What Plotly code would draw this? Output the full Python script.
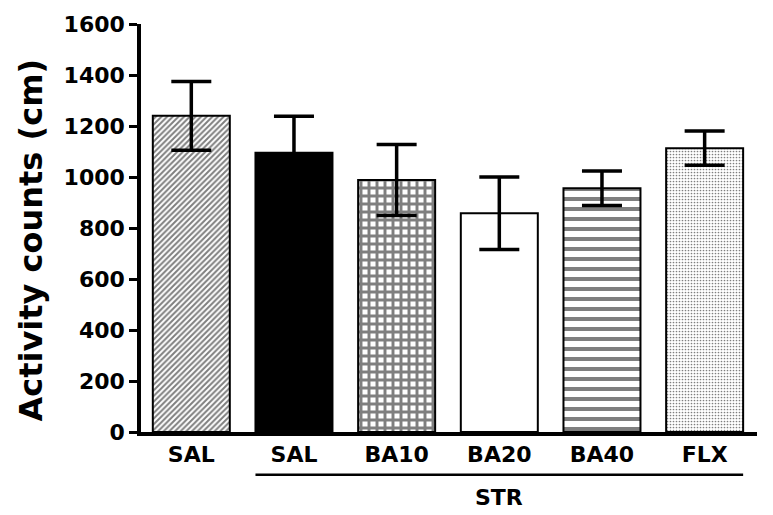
import plotly.graph_objects as go

groups = ["SAL", "SAL ", "BA10", "BA20", "BA40", "FLX"]
tick_text = ["SAL", "SAL", "BA10", "BA20", "BA40", "FLX"]
means = [1240, 1095, 988, 858, 956, 1113]
sem = [135, 143, 139, 142, 68, 67]
y_ticks = [0, 200, 400, 600, 800, 1000, 1200, 1400, 1600]

FONT = "DejaVu Sans"

patterns = [
    dict(shape="/", size=4, solidity=0.5, fgcolor="black", bgcolor="white"),
    dict(shape="", fgcolor="black", bgcolor="black"),
    dict(shape="+", size=8, solidity=0.6, fgcolor="black", bgcolor="white"),
    dict(shape="", fgcolor="white", bgcolor="white"),
    dict(shape="-", size=10, solidity=0.4, fgcolor="black", bgcolor="white"),
    dict(shape=".", size=3, solidity=0.25, fgcolor="black", bgcolor="white"),
]
fill = ["white", "black", "white", "white", "white", "white"]

fig = go.Figure()
for i, g in enumerate(groups):
    fig.add_trace(go.Bar(
        x=[i], y=[means[i]],
        width=0.75,
        marker=dict(color=fill[i], line=dict(color="black", width=2),
                    pattern=patterns[i]),
        error_y=dict(type="data", array=[sem[i]], visible=True,
                     color="black", thickness=3.5, width=20),
        showlegend=False,
    ))

# STR bracket under the stressed groups
fig.add_shape(type="line", xref="x", yref="paper",
              x0=1 - 0.375, x1=5 + 0.375, y0=-0.105, y1=-0.105,
              line=dict(color="black", width=2.5))
fig.add_annotation(text="STR", xref="x", yref="paper", x=3, y=-0.161,
                   showarrow=False, xanchor="center", yanchor="middle",
                   font=dict(family=FONT, size=22, color="black", weight="bold"))
fig.add_annotation(text="Activity counts (cm)", xref="paper", yref="paper",
                   x=-0.178, y=0.47, textangle=-90, showarrow=False,
                   xanchor="center", yanchor="middle",
                   font=dict(family=FONT, size=32, color="black", weight="bold"))

fig.update_layout(
    width=773, height=515,
    margin=dict(l=141, r=16, t=22, b=83),
    plot_bgcolor="white", paper_bgcolor="white",
    bargap=0.25,
    font=dict(family=FONT, color="black"),
    xaxis=dict(
        range=[-0.49, 5.51], tickmode="array", tickvals=list(range(6)),
        ticktext=tick_text, ticks="", showline=True, linecolor="black",
        linewidth=3.5, showgrid=False, zeroline=False,
        tickfont=dict(family=FONT, size=22, color="black", weight="bold"),
    ),
    yaxis=dict(
        range=[0, 1600], tickvals=y_ticks, ticks="outside", ticklen=8,
        tickwidth=3, tickcolor="black", showline=True, linecolor="black",
        linewidth=3.5, showgrid=False, zeroline=False,
        tickfont=dict(family=FONT, size=22, color="black", weight="bold"),
    ),
)

fig.write_html("out.html", config={"displayModeBar": False},
               post_script="document.body.style.margin='0';")
